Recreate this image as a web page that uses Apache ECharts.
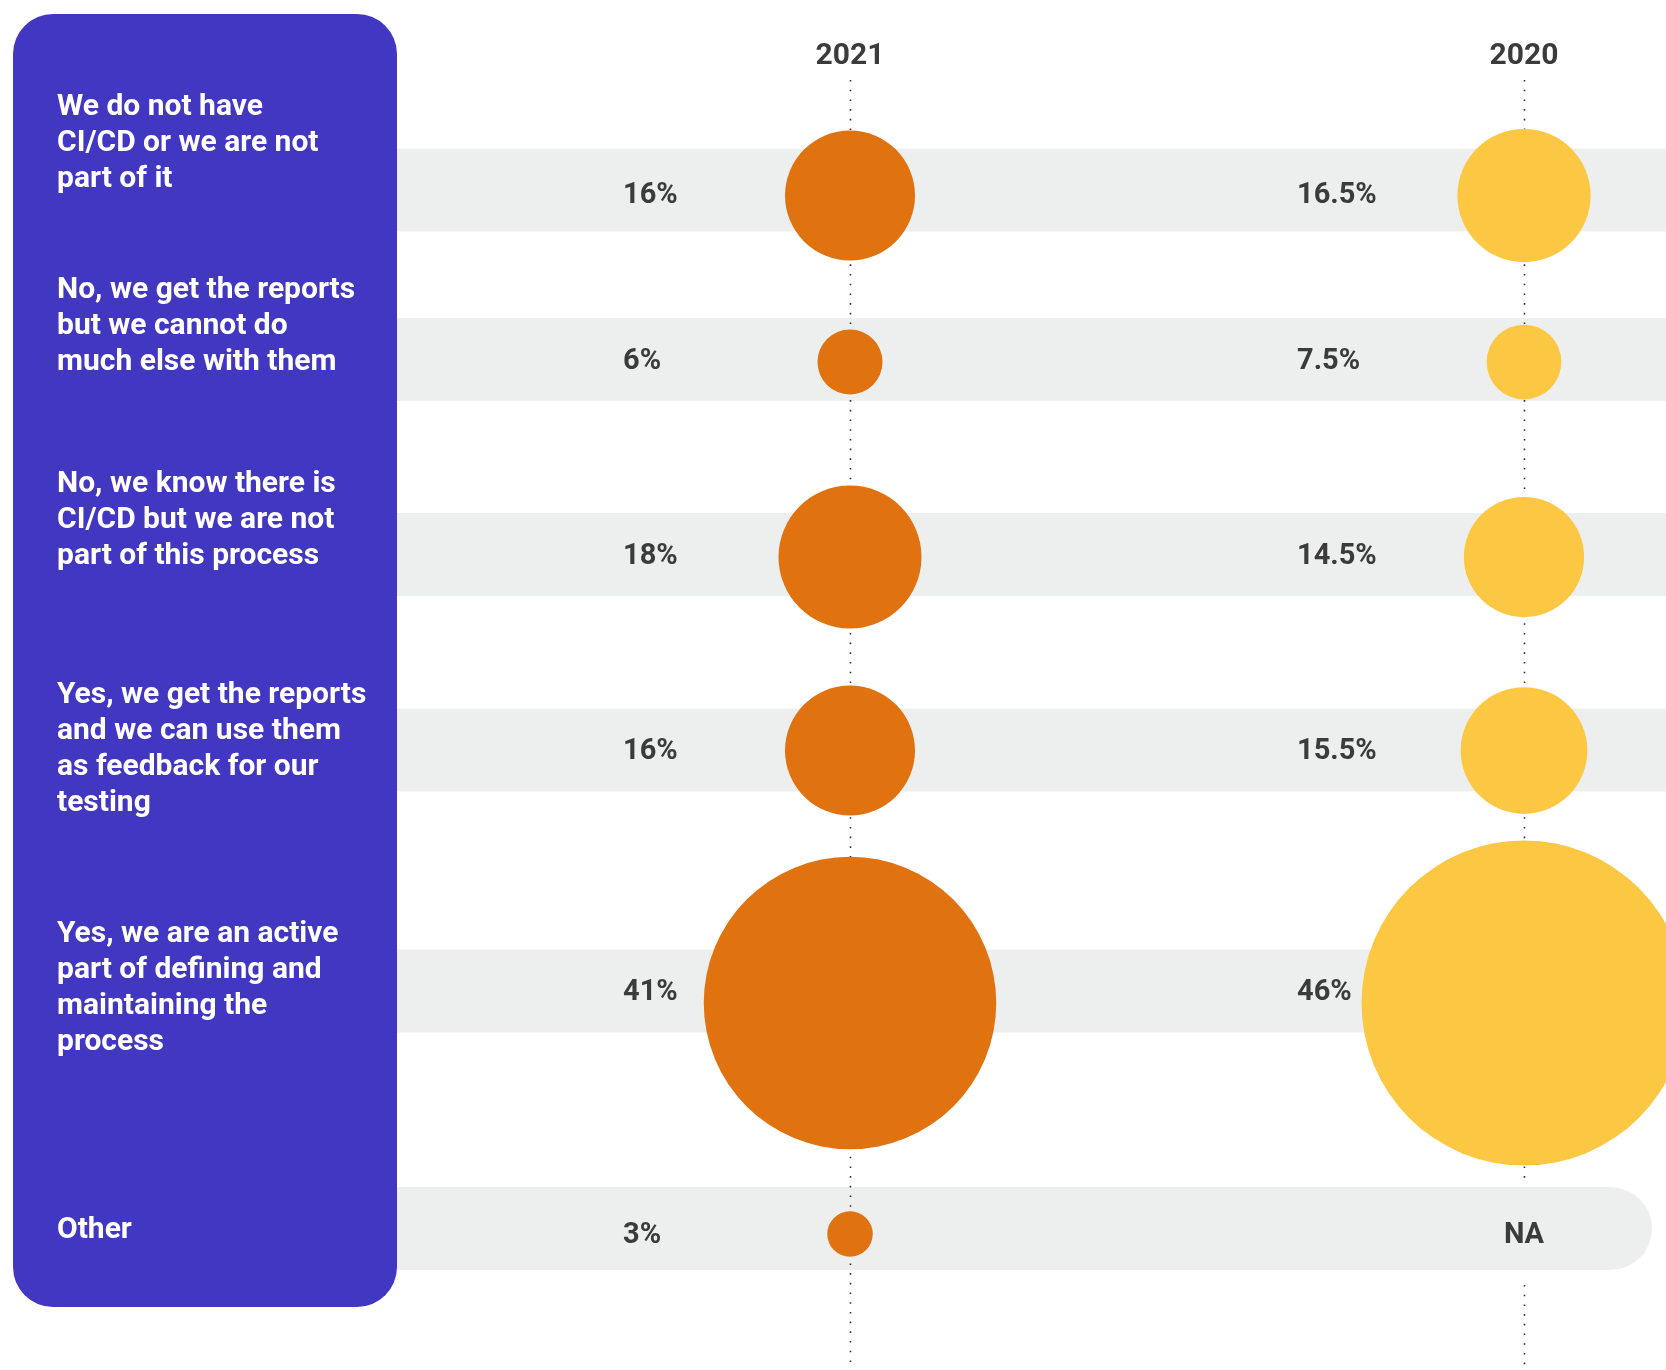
<!DOCTYPE html>
<html>
<head>
<meta charset="utf-8">
<script src="https://cdn.jsdelivr.net/npm/echarts@6/dist/echarts.min.js"></script>
<style>
  html, body { margin: 0; padding: 0; background: #ffffff; }
  #chart { width: 1666px; height: 1370px; }
</style>
</head>
<body>
<div id="chart"></div>
<script>
// ---------- DATA ----------
const rows = [
  "We do not have\nCI/CD or we are not\npart of it",
  "No, we get the reports\nbut we cannot do\nmuch else with them",
  "No, we know there is\nCI/CD but we are not\npart of this process",
  "Yes, we get the reports\nand we can use them\nas feedback for our\ntesting",
  "Yes, we are an active\npart of defining and\nmaintaining the\nprocess",
  "Other"
];
const years = ["2021", "2020"];
const values2021 = [16, 6, 18, 16, 41, 3];
const values2020 = [16.5, 7.5, 14.5, 15.5, 46, null];

// ---------- LAYOUT (slots on the vertical scale) ----------
const ROW_SLOT = [190, 359.5, 554.5, 750, 991, 1228.5];     // band centres
const MARK_SLOT = [195.5, 362, 557, 750.5, 1003, 1234];     // bubble centres
const LABEL_SLOT = [143, 326, 520, 749.5, 988.5, 1230];     // row text centres
const VALUE_SLOT = [196, 362, 557, 752, 993, 1236];         // value text centres
const PANEL = { x: 13, y: 14, w: 384, h: 1293, r: 40 };
const BAND_H = 83;

const C_PURPLE = "#4237C1";
const C_ORANGE = "#E07210";
const C_YELLOW = "#FCC843";
const C_BAND = "#EDEFEE";
const C_TEXT = "#3B3B3B";
const FONT = "Roboto";

function sizeOf(v) { return v == null ? 0 : 6.5 * v + 26; }
const seriesValues = [values2021, values2020];
const seriesColors = [C_ORANGE, C_YELLOW];

const chart = echarts.init(document.getElementById("chart"), null, { renderer: "canvas" });

const series = [
  {
    type: "custom",
    name: "bands",
    z: 1,
    silent: true,
    coordinateSystem: "cartesian2d",
    data: ROW_SLOT.map((p, i) => [0, p, i]),
    encode: { x: 0, y: 1 },
    renderItem: function (params, api) {
      const i = api.value(2);
      const y = api.coord([0, api.value(1)])[1];
      const ly = api.coord([0, LABEL_SLOT[i]])[1];
      const W = api.getWidth();
      const isLast = i === rows.length - 1;
      const left = PANEL.x + PANEL.w;
      const right = isLast ? W - 14 : W;
      return {
        type: "group",
        children: [
          {
            type: "rect",
            shape: {
              x: left, y: y - BAND_H / 2, width: right - left, height: BAND_H,
              r: isLast ? [0, BAND_H / 2, BAND_H / 2, 0] : 0
            },
            style: { fill: C_BAND }
          },
          {
            type: "text",
            style: {
              text: rows[i],
              x: 57,
              y: ly,
              fill: "#ffffff",
              fontFamily: FONT,
              fontWeight: "bold",
              fontSize: 30,
              lineHeight: 36,
              verticalAlign: "middle",
              align: "left"
            }
          }
        ]
      };
    }
  },
  {
    type: "custom",
    name: "guides",
    z: 3,
    silent: true,
    coordinateSystem: "cartesian2d",
    data: years.map((y, c) => [c, c]),
    encode: { x: 0 },
    renderItem: function (params, api) {
      const c = api.value(1);
      const x = Math.round(api.coord([c, ROW_SLOT[0]])[0]) + 0.5;
      const top = params.coordSys.y;
      const bottom = params.coordSys.y + params.coordSys.height;
      const gaps = [];
      seriesValues[c].forEach((v, i) => {
        if (v == null) {
          const yc = api.coord([c, ROW_SLOT[i]])[1];
          gaps.push([yc - BAND_H / 2 - 5, yc + BAND_H / 2 + 15]);
        }
      });
      const segs = [];
      let start = top;
      gaps.forEach(g => { segs.push([start, g[0]]); start = g[1]; });
      segs.push([start, bottom]);
      return {
        type: "group",
        children: segs.map(s => ({
          type: "line",
          shape: { x1: x, y1: s[0], x2: x, y2: s[1] },
          style: { stroke: "#333333", lineWidth: 1.6, lineDash: [1.6, 8.1] }
        }))
      };
    }
  }
];

years.forEach((year, c) => {
  const vals = seriesValues[c];
  // bubbles
  series.push({
    type: "scatter",
    name: year,
    z: 5,
    silent: true,
    data: vals.map((v, i) => (v == null ? null : [year, MARK_SLOT[i], v])).filter(d => d),
    symbol: "circle",
    symbolSize: val => sizeOf(val[2]),
    itemStyle: { color: seriesColors[c], opacity: 1 },
    label: { show: false },
    emphasis: { disabled: true }
  });
  // value labels
  series.push({
    type: "scatter",
    name: year + " labels",
    z: 6,
    silent: true,
    data: vals.map((v, i) => ({
      value: [year, VALUE_SLOT[i], v],
      label: v == null ? { align: "center", offset: [0, 0] } : {}
    })),
    symbol: "circle",
    symbolSize: 0,
    itemStyle: { color: C_BAND, opacity: 1 },
    label: {
      show: true,
      position: "inside",
      align: "left",
      verticalAlign: "middle",
      offset: [-227, 0],
      color: C_TEXT,
      opacity: 1,
      fontFamily: FONT,
      fontWeight: "bold",
      fontSize: 29,
      formatter: p => (p.value[2] == null ? "NA" : p.value[2] + "%")
    },
    emphasis: { disabled: true }
  });
});

const option = {
  animation: false,
  backgroundColor: "#ffffff",
  graphic: [{
    type: "rect",
    z: 0,
    shape: { x: PANEL.x, y: PANEL.y, width: PANEL.w, height: PANEL.h, r: PANEL.r },
    style: { fill: C_PURPLE }
  }],
  grid: { left: 850, right: 142, top: 80, bottom: 5, containLabel: false },
  xAxis: {
    type: "category",
    data: years,
    boundaryGap: false,
    position: "top",
    axisLine: { show: false },
    axisTick: { show: false },
    splitLine: { show: false },
    axisLabel: {
      margin: 9,
      color: C_TEXT,
      fontFamily: FONT,
      fontWeight: "bold",
      fontSize: 30
    }
  },
  yAxis: {
    type: "value",
    min: 80,
    max: 1365,
    inverse: true,
    show: false,
    splitLine: { show: false }
  },
  series: series
};

chart.setOption(option);
</script>
</body>
</html>
